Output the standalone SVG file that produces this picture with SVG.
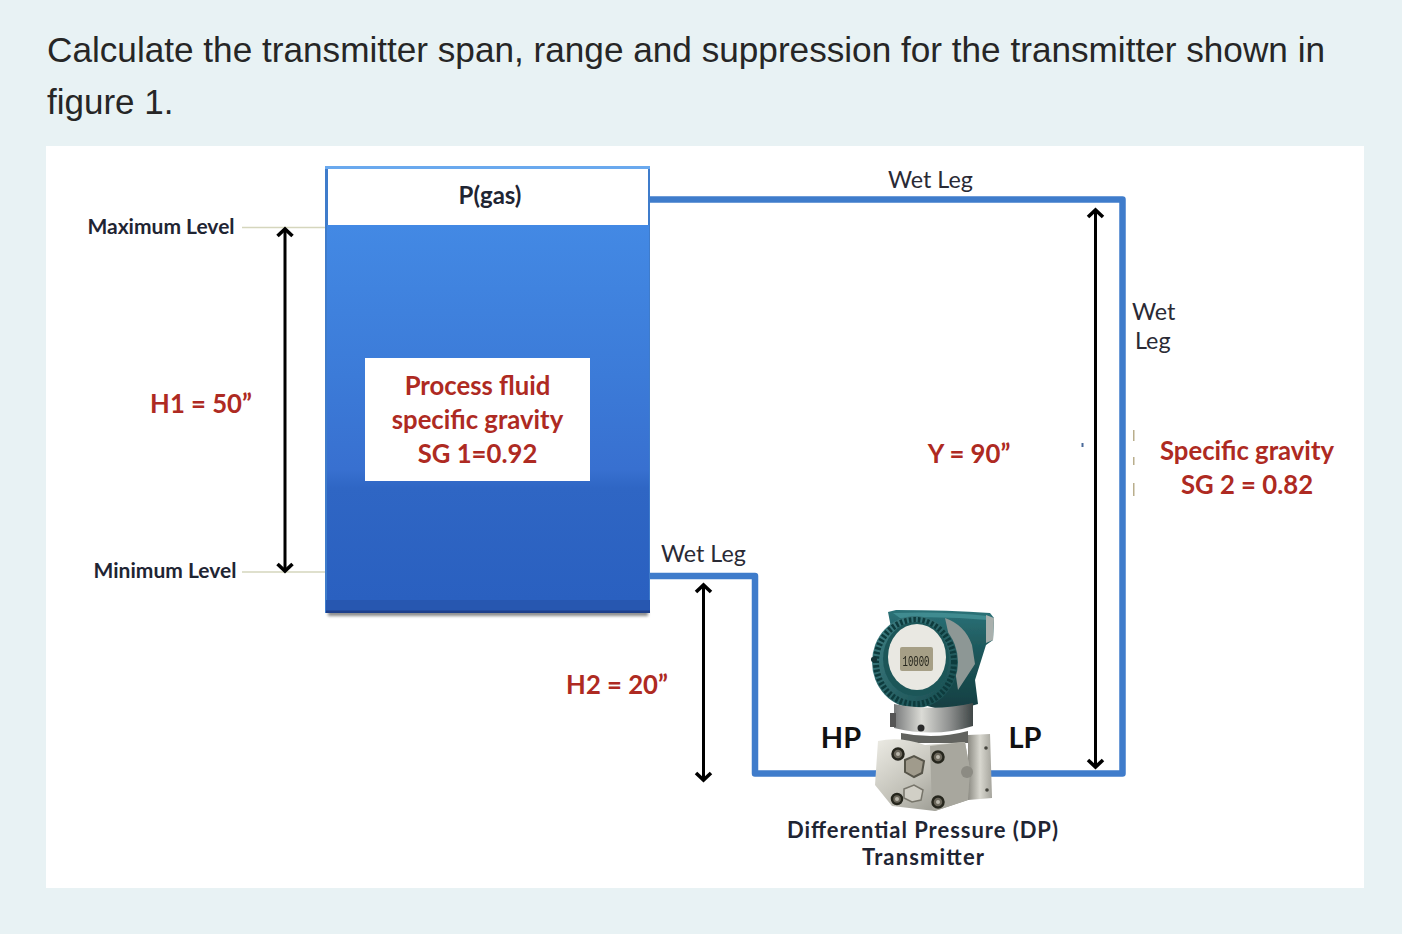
<svg xmlns="http://www.w3.org/2000/svg" width="1402" height="934" viewBox="0 0 1402 934">
<style>
.t{font-family:"Liberation Sans",Arial,sans-serif;font-size:35px;fill:#262626}
.b{font-family:Lato,"Noto Sans",sans-serif;font-weight:700;text-anchor:middle}
.k{fill:#1f2533;font-size:21px}
.r{fill:#ae2a22;font-size:25.700px}
.w{font-family:Lato,"Noto Sans",sans-serif;font-size:23.300px;fill:#2a2a35}
.pipe{fill:none;stroke:#3f7ccb;stroke-width:6.500;stroke-linejoin:round}
.dim{stroke:#000;stroke-width:3;fill:none;marker-start:url(#ah);marker-end:url(#ah)}
.lvl{stroke:#d5d6bd;stroke-width:1.500}
.bolt{fill:#6a665a;stroke:#26261f;stroke-width:2.500}
.boltc{fill:#b9b6aa}
</style>
<defs>
<marker id="ah" viewBox="-10 -10 20 20" markerWidth="20" markerHeight="20" markerUnits="userSpaceOnUse" orient="auto-start-reverse"><path d="M-7 -7.500 L0 0 L-7 7.500" fill="none" stroke="#000" stroke-width="3.600"/></marker>
<linearGradient id="tank" x1="0" y1="0" x2="0" y2="1"><stop offset="0" stop-color="#4389e4"/><stop offset="0.4" stop-color="#3c7bd8"/><stop offset="0.65" stop-color="#3870d0"/><stop offset="0.7" stop-color="#2f66c4"/><stop offset="1" stop-color="#2a60c0"/></linearGradient>
<linearGradient id="body" x1="0" y1="0" x2="1" y2="1"><stop offset="0" stop-color="#ecebe4"/><stop offset="0.5" stop-color="#c2c1b8"/><stop offset="1" stop-color="#8a8a82"/></linearGradient>
<linearGradient id="flange" x1="0" y1="0" x2="1" y2="0"><stop offset="0" stop-color="#8c8b83"/><stop offset="0.5" stop-color="#d8d7cf"/><stop offset="1" stop-color="#a5a49c"/></linearGradient>
<linearGradient id="neck" x1="0" y1="0" x2="1" y2="0"><stop offset="0" stop-color="#77797a"/><stop offset="0.35" stop-color="#dbdbd6"/><stop offset="0.7" stop-color="#8f9190"/><stop offset="1" stop-color="#3f4646"/></linearGradient>
<linearGradient id="rear" x1="0" y1="0" x2="0" y2="1"><stop offset="0" stop-color="#2c7278"/><stop offset="0.35" stop-color="#1f5a5e"/><stop offset="1" stop-color="#123d40"/></linearGradient>
<linearGradient id="ring" x1="0" y1="0" x2="1" y2="1"><stop offset="0" stop-color="#3f8084"/><stop offset="1" stop-color="#164a4d"/></linearGradient>
<filter id="sh" x="-5%" y="-200%" width="110%" height="500%"><feGaussianBlur stdDeviation="1.600"/></filter>
<filter id="soft" x="-5%" y="-5%" width="110%" height="110%"><feGaussianBlur stdDeviation="0.500"/></filter>
</defs>
<rect width="1402" height="934" fill="#e8f2f4"/>
<rect x="46" y="146" width="1318" height="742" fill="#fff"/>
<text class="t" x="47" y="62" textLength="1278" lengthAdjust="spacingAndGlyphs">Calculate the transmitter span, range and suppression for the transmitter shown in</text>
<text class="t" x="47" y="114">figure 1.</text>

<g id="connectors">
<path class="pipe" d="M649 199.500 H1122.500 V773.500 H985"/>
<path class="pipe" d="M649 576 H755 V773.500 H880"/>
<line class="lvl" x1="242" y1="227.500" x2="326" y2="227.500"/>
<line class="lvl" x1="242" y1="572" x2="326" y2="572"/>
<path class="dim" d="M285 229 V571"/>
<path class="dim" d="M703.500 585 V780"/>
<path class="dim" d="M1095.500 210 V767"/>
</g>

<g id="tank">
<rect x="328" y="611" width="320" height="5" fill="#8a8a8a" filter="url(#sh)"/>
<rect x="325" y="166" width="325" height="447" fill="#3f7ccb"/>
<rect x="325" y="166" width="325" height="3" fill="#6aa9ee"/>
<rect x="328" y="169" width="320" height="56" fill="#fff"/>
<rect x="327" y="225" width="322" height="376" fill="url(#tank)"/>
<rect x="326" y="600" width="324" height="11" fill="#2757b0"/>
<rect x="326" y="610.500" width="324" height="2.500" fill="#1e3f8a"/>
<text class="b" x="490" y="204" font-size="24" fill="#1f2533">P(gas)</text>
</g>

<g id="fluid-label">
<rect x="365" y="358" width="225" height="123" fill="#fff"/>
<text class="b r" x="477.500" y="395">Process fluid</text>
<text class="b r" x="477.500" y="429">specific gravity</text>
<text class="b r" x="477.500" y="463">SG 1=0.92</text>
</g>

<g id="max-level"><text class="b k" x="161" y="234">Maximum Level</text></g>
<g id="min-level"><text class="b k" x="165" y="578">Minimum Level</text></g>
<g id="h1"><text class="b r" x="201" y="413">H1 = 50”</text></g>
<g id="h2"><text class="b r" x="617" y="694">H2 = 20”</text></g>
<g id="y"><text class="b r" x="969" y="463">Y = 90”</text></g>
<g id="wet-leg-top"><text class="w" x="888" y="188">Wet Leg</text></g>
<g id="wet-leg-right"><text class="w" x="1132" y="320">Wet</text><text class="w" x="1135" y="349">Leg</text></g>
<g id="wet-leg-low"><text class="w" x="661" y="562">Wet Leg</text></g>
<g id="sg2">
<text class="b r" x="1247" y="460">Specific gravity</text>
<text class="b r" x="1247" y="494">SG 2 = 0.82</text>
</g>
<g id="specks" fill="#b9ae8c">
<rect x="1133" y="430" width="1.500" height="11"/>
<rect x="1133" y="457" width="1.500" height="8"/>
<rect x="1133" y="483" width="1.500" height="13"/>
<rect x="1081.500" y="443" width="2" height="4" fill="#4a6a9a"/>
</g>

<g id="transmitter" filter="url(#soft)">
<path d="M888 612 L896 610 Q950 610 990 613 L994 618 L993 640 L986 645 L975 680 L978 704 L950 712 L905 700Z" fill="url(#rear)"/>
<path d="M893 613 Q945 611 988 616 L988 620 Q945 616 900 618Z" fill="#3f8b90"/>
<path d="M945 618 Q965 625 972 645 L975 664 L958 690 L952 650Z" fill="#8d9795"/>
<path d="M986 615 L994 618 L993 640 L986 643 Z" fill="#a9b0ad"/>
<ellipse cx="915" cy="662" rx="43" ry="46" fill="url(#ring)"/>
<ellipse cx="915" cy="662" rx="39" ry="42" fill="none" stroke="#0f3a3c" stroke-width="6" stroke-dasharray="2.500 2"/>
<ellipse cx="916" cy="659" rx="33" ry="37" fill="#1d5659"/>
<rect x="871" y="657" width="6" height="5" rx="2" fill="#123638"/>
<ellipse cx="917" cy="657" rx="29" ry="33" fill="#e9e8e2"/>
<rect x="900" y="647" width="33" height="24" rx="2" fill="#a69f86"/>
<text x="916" y="666" font-family="Liberation Mono,monospace" font-size="15" fill="#25251c" text-anchor="middle" textLength="27" lengthAdjust="spacingAndGlyphs">10000</text>
<path d="M894 704 Q935 712 973 703 V726 Q935 738 894 728 Z" fill="url(#neck)"/>
<rect x="890" y="713" width="6" height="14" fill="#555"/>
<circle cx="921" cy="728" r="3.500" fill="#2a2c2c"/>
<path d="M901 733 Q935 740 968 731 V743 H901Z" fill="#62645f"/>
<path d="M968 735 L990 734 L992 798 L968 800Z" fill="url(#flange)"/>
<path d="M878 741 Q900 736 925 745 L965 742 L970 770 L968 800 L935 811 L892 806 L875 785 Z" fill="url(#body)"/>
<path d="M930 746 L932 809 L935 811 L968 800 L970 770 L965 742Z" fill="#a8a79e"/>
<circle cx="967" cy="772" r="6" fill="#8c8b83"/>
<circle cx="898" cy="754" r="5.500" class="bolt"/><circle cx="898" cy="754" r="2" class="boltc"/>
<circle cx="938" cy="757" r="5.500" class="bolt"/><circle cx="938" cy="757" r="2" class="boltc"/>
<circle cx="897" cy="799" r="5" class="bolt"/><circle cx="897" cy="799" r="2" class="boltc"/>
<circle cx="938" cy="802" r="5.500" class="bolt"/><circle cx="938" cy="802" r="2" class="boltc"/>
<path d="M905 760 L914 756 L924 761 L922 773 L914 777 L905 772Z" fill="#a09b8c" stroke="#57544a" stroke-width="2"/>
<path d="M904 789 L914 785 L923 790 L921 800 L912 802 L904 798Z" fill="#d1cfc6" stroke="#77756b" stroke-width="1.500"/>
<circle cx="986" cy="748" r="1.800" fill="#45443e"/><circle cx="987" cy="790" r="1.800" fill="#45443e"/>
</g>
<g id="hp"><text class="b" x="841" y="748" font-size="29" fill="#111">HP</text></g>
<g id="lp"><text class="b" x="1025" y="748" font-size="29" fill="#111">LP</text></g>
<g id="dp-label">
<text class="b" x="922.500" y="838" font-size="22" fill="#1f2533" textLength="271">Differential Pressure (DP)</text>
<text class="b" x="923" y="864.500" font-size="22" fill="#1f2533" textLength="122">Transmitter</text>
</g>
</svg>
